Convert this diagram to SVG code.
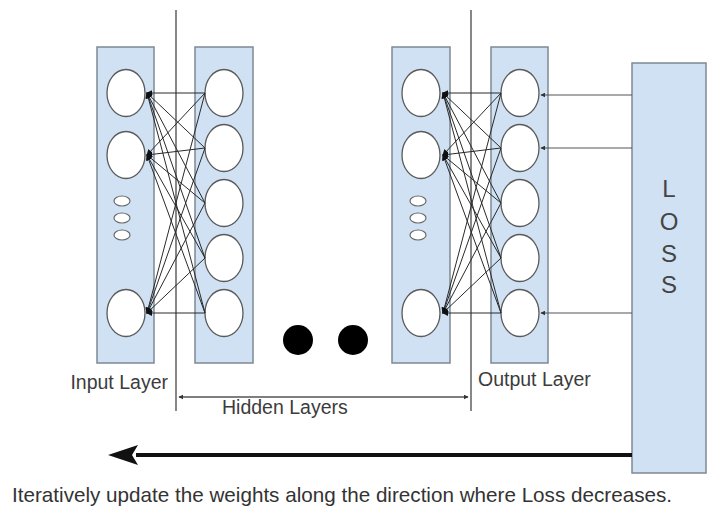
<svg xmlns="http://www.w3.org/2000/svg" width="707" height="506" viewBox="0 0 707 506">
  <style>
    .panel { fill: #cfe1f2; stroke: #7d8894; stroke-width: 1.5; }
    .node { fill: #ffffff; stroke: #5a5a5a; stroke-width: 1.3; }
    .mini { fill: #ffffff; stroke: #6a6a6a; stroke-width: 1.2; }
    .link { stroke: #2a2a2a; stroke-width: 1; fill: none; marker-start: url(#tip); }
    .feed { stroke: #555555; stroke-width: 1.2; fill: none; }
    .guide { stroke: #555555; stroke-width: 1.4; fill: none; }
    .label { font-family: "Liberation Sans", Arial, sans-serif; font-size: 19.5px; fill: #3c3c3c; }
    .loss { font-family: "Liberation Sans", Arial, sans-serif; font-size: 24px; fill: #444444; text-anchor: middle; }
  </style>
  <defs>
    <marker id="tip" viewBox="0 0 8 8" refX="7" refY="4" markerWidth="6" markerHeight="6" orient="auto-start-reverse" markerUnits="userSpaceOnUse">
      <path d="M0,0 L8,4 L0,8 Z" fill="#111111"/>
    </marker>
    <marker id="tiny" viewBox="0 0 8 8" refX="7" refY="4" markerWidth="5" markerHeight="5" orient="auto-start-reverse" markerUnits="userSpaceOnUse">
      <path d="M0,0 L8,4 L0,8 Z" fill="#333333"/>
    </marker>
  </defs>

  <!-- layer boundaries for the hidden block -->
  <g id="hidden-bounds">
    <line class="guide" x1="176" y1="10" x2="176" y2="411"/>
    <line class="guide" x1="471" y1="10" x2="471" y2="411"/>
    <line class="guide" x1="179" y1="397" x2="468" y2="397" marker-start="url(#tiny)" marker-end="url(#tiny)"/>
  </g>

  <!-- input layer -->
  <g id="input-layer">
    <rect class="panel" x="97" y="47" width="57" height="316"/>
    <ellipse class="node" cx="126" cy="93" rx="19" ry="23.5"/>
    <ellipse class="node" cx="126" cy="155" rx="19" ry="23.5"/>
    <ellipse class="mini" cx="122" cy="201" rx="8" ry="5"/>
    <ellipse class="mini" cx="122" cy="218" rx="8" ry="5"/>
    <ellipse class="mini" cx="122" cy="235" rx="8" ry="5"/>
    <ellipse class="node" cx="126" cy="313" rx="19" ry="23.5"/>
  </g>

  <!-- first hidden layer -->
  <g id="hidden-layer-1">
    <rect class="panel" x="195" y="47" width="58" height="316"/>
    <ellipse class="node" cx="224" cy="93" rx="19" ry="23.5"/>
    <ellipse class="node" cx="224" cy="148" rx="19" ry="23.5"/>
    <ellipse class="node" cx="224" cy="203" rx="19" ry="23.5"/>
    <ellipse class="node" cx="224" cy="258" rx="19" ry="23.5"/>
    <ellipse class="node" cx="224" cy="313" rx="19" ry="23.5"/>
  </g>

  <!-- last hidden layer -->
  <g id="hidden-layer-n">
    <rect class="panel" x="392" y="47" width="58" height="316"/>
    <ellipse class="node" cx="421" cy="93" rx="19" ry="23.5"/>
    <ellipse class="node" cx="421" cy="155" rx="19" ry="23.5"/>
    <ellipse class="mini" cx="418" cy="201" rx="8" ry="5"/>
    <ellipse class="mini" cx="418" cy="218" rx="8" ry="5"/>
    <ellipse class="mini" cx="418" cy="235" rx="8" ry="5"/>
    <ellipse class="node" cx="421" cy="313" rx="19" ry="23.5"/>
  </g>

  <!-- output layer -->
  <g id="output-layer">
    <rect class="panel" x="491" y="47" width="57" height="316"/>
    <ellipse class="node" cx="520" cy="93" rx="19" ry="23.5"/>
    <ellipse class="node" cx="520" cy="148" rx="19" ry="23.5"/>
    <ellipse class="node" cx="520" cy="203" rx="19" ry="23.5"/>
    <ellipse class="node" cx="520" cy="258" rx="19" ry="23.5"/>
    <ellipse class="node" cx="520" cy="313" rx="19" ry="23.5"/>
  </g>

  <!-- loss block -->
  <g id="loss">
    <rect class="panel" x="632" y="63" width="74" height="410"/>
    <text class="loss" x="669" y="197">L</text>
    <text class="loss" x="669" y="230">O</text>
    <text class="loss" x="669" y="262">S</text>
    <text class="loss" x="669" y="293">S</text>
  </g>

  <!-- ellipsis between hidden layers -->
  <g id="more-layers">
    <circle cx="298" cy="340" r="15" fill="#000000"/>
    <circle cx="353" cy="340" r="15" fill="#000000"/>
  </g>

  <g id="connectors">
    <!-- input to first hidden layer -->
    <path class="link" d="M147,93 L205,93"/>
    <path class="link" d="M147,93 L205,148"/>
    <path class="link" d="M147,93 L205,203"/>
    <path class="link" d="M147,93 L205,258"/>
    <path class="link" d="M147,93 L205,313"/>
    <path class="link" d="M147,155 L205,93"/>
    <path class="link" d="M147,155 L205,148"/>
    <path class="link" d="M147,155 L205,203"/>
    <path class="link" d="M147,155 L205,258"/>
    <path class="link" d="M147,155 L205,313"/>
    <path class="link" d="M147,313 L205,93"/>
    <path class="link" d="M147,313 L205,148"/>
    <path class="link" d="M147,313 L205,203"/>
    <path class="link" d="M147,313 L205,258"/>
    <path class="link" d="M147,313 L205,313"/>
    <!-- last hidden to output layer -->
    <path class="link" d="M443,93 L501,93"/>
    <path class="link" d="M443,93 L501,148"/>
    <path class="link" d="M443,93 L501,203"/>
    <path class="link" d="M443,93 L501,258"/>
    <path class="link" d="M443,93 L501,313"/>
    <path class="link" d="M443,155 L501,93"/>
    <path class="link" d="M443,155 L501,148"/>
    <path class="link" d="M443,155 L501,203"/>
    <path class="link" d="M443,155 L501,258"/>
    <path class="link" d="M443,155 L501,313"/>
    <path class="link" d="M443,313 L501,93"/>
    <path class="link" d="M443,313 L501,148"/>
    <path class="link" d="M443,313 L501,203"/>
    <path class="link" d="M443,313 L501,258"/>
    <path class="link" d="M443,313 L501,313"/>
    <!-- loss fed back to outputs -->
    <path class="feed" d="M632,95 L541,95" marker-end="url(#tiny)"/>
    <path class="feed" d="M632,148 L541,148" marker-end="url(#tiny)"/>
    <path class="feed" d="M632,313 L541,313" marker-end="url(#tiny)"/>
    <!-- update direction -->
    <path d="M632,455 L136,455" stroke="#111111" stroke-width="4" fill="none"/>
    <path d="M108,455 L138,445 L132,455 L138,465 Z" fill="#111111"/>
  </g>

  <g id="labels">
    <text class="label" x="168" y="389" text-anchor="end">Input Layer</text>
    <text class="label" x="222" y="414">Hidden Layers</text>
    <text class="label" x="478" y="386">Output Layer</text>
    <text x="12" y="502" font-family="'Liberation Sans', Arial, sans-serif" font-size="21" fill="#333333" textLength="660" lengthAdjust="spacingAndGlyphs">Iteratively update the weights along the direction where Loss decreases.</text>
  </g>
</svg>
